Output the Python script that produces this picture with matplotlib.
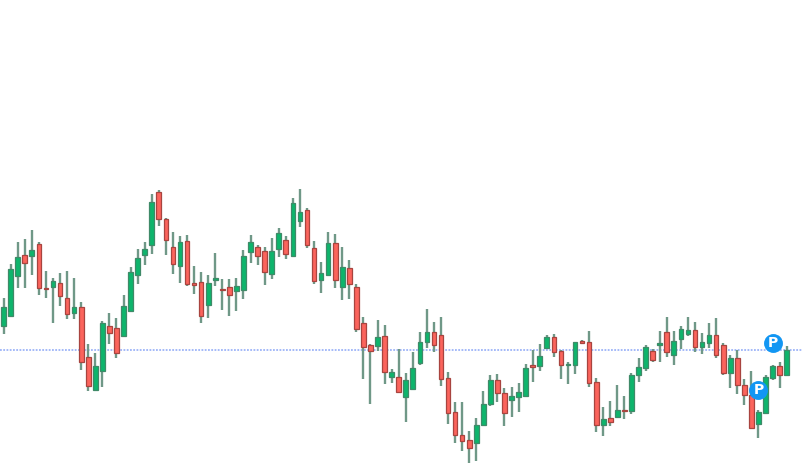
import matplotlib
matplotlib.use("Agg")
import matplotlib.pyplot as plt
import numpy as np

# values, y axis runs the same way as the picture
highs = [298.3,264,242,239.3,230,242,270.7,278,273.3,270.7,278.3,302,344.3,353.3,320.7,313.3,318.3,295,267.3,249.3,
         242,194,190,218.3,231.7,235.7,235,266,271.7,275,252.7,279,279,278.3,250,235,245.3,246.7,237.7,227.7,
         235.7,198.3,189,208.3,240.7,261.7,231.7,234,246.7,260,284,316.7,344.3,320.3,325,369.3,349,373.3,351.7,331.7,
         309,321.7,316.7,371.7,402,402,430.7,418.3,390.7,375,374,388.3,387.3,383.3,364,350,344,335,334,350,
         362.3,341.7,340,330.7,378.3,407.3,400.7,385.3,395.7,373.3,357.7,345,349.3,330.7,316.7,330.7,325.7,316.7,321.7,332.7,
         322.7,318.3,342.7,355,350,379.3,370.7,410,375,365,362,345.7]
tops = [307.3,269.3,257.3,254.7,249.7,244.3,288,281,283.3,298.3,307.3,307.3,357.3,366,323.3,326,328.3,306,272.3,258.3,
        249.3,202,191.7,219.3,247,242.3,240.7,283.3,281.7,283.3,278,289,287.3,286,256,242,247.3,250.7,251,233,
        239.7,202.7,212,210.3,248.3,273.3,243.3,243.3,267.3,268.3,287.3,323.3,345,337.3,336,372,377.3,380,368.3,342.3,
        332.3,332.3,334.7,378.3,412.3,435,440,425,403.7,380,379.7,392.7,396,392.3,368.3,365.3,356,337.3,337.3,351,
        364,342.3,340.7,342.3,382.3,418.7,418.3,409.7,409.7,374.7,367.3,347.3,351,343.3,332.3,341,328.7,330,330,342,
        334.7,334.7,344.7,358.3,358.3,384.7,395,412.3,377.3,366,366,349.7]
bottoms = [326,316,276,263.3,256,288.3,289,287.3,296,313.7,312.7,362.3,386.3,390,371,333.3,353.3,336.3,311,275,
           255,244.7,219.3,240,263.7,266,284,285.3,316,305,280,290.3,295.3,291,290,252.3,256.3,272.3,274,248.7,
           253.7,256,220.7,245,281,280.3,275,280,287.3,283.7,328.7,347.3,351.3,346,372.3,377.3,391.7,396.7,389,362.7,
           342.3,345,378.7,412.7,435,441.3,447.7,442.7,425.3,403.7,392.7,412.7,400.3,397.3,395.7,366.7,366,348.3,351.7,365.3,
           365.3,365,342.7,382.7,425,425,421.7,417.3,411.3,411.3,375.3,367.7,360,345,351.7,355,338.7,334,346.7,346.7,
           342.7,355,372.7,372.7,385,395.3,427.7,424,412.7,377.7,375.3,375]
lows = [334,316,288.3,288,275,295,297.7,322.7,306,318.7,319,370,391.3,390,387.3,344,357.7,337,311.3,284,
        265,254,226,255,274,282.7,286,294,322.7,317.7,286,310,316,311.3,299.3,262.7,265.3,285,279.3,257.3,
        259,256,227.3,248.3,284,292.7,275,287.7,300,299.3,331.7,379,404,351,384.3,382.7,393,421.7,390,365,
        347.7,351.7,385.7,424.3,443.3,450.7,463.3,460.7,426,406,401.7,425.7,416.7,411.7,396,381.7,370.7,349.3,356.7,379.3,
        384.3,374,344,386.7,431.7,435.7,425.7,417.3,419.3,414.3,381.7,370.7,361.7,361.7,356.7,365.3,349.3,335.7,351.7,354.3,
        348.3,358.3,375,387.7,394,405.3,428,437.7,412.7,380,387.7,376]
up = [1,1,1,0,1,0,0,1,0,0,1,0,0,1,1,0,0,1,1,1,
      1,1,0,0,0,1,0,0,0,1,1,0,0,1,1,1,0,0,1,1,
      0,1,1,0,0,1,1,0,1,0,0,0,0,1,0,1,0,1,1,1,
      1,0,0,0,0,0,0,1,1,1,0,0,1,1,1,0,1,1,0,0,
      1,1,0,0,0,1,0,1,0,1,1,1,0,1,0,1,1,1,0,1,
      1,0,0,1,0,0,0,1,1,1,0,1]
pivot_idx = [109, 107]
pivot_y = [343, 390]
price_level = 350

up = np.array(up, dtype=bool)
x = np.arange(len(highs))
tops_a = np.array(tops)
bottoms_a = np.array(bottoms)

fig = plt.figure(figsize=(8.02, 4.70), dpi=100)
ax = fig.add_axes([0, 0, 1, 1])

ax.axhline(price_level, color="#9db4f8", lw=1.3, ls=(0, (1, 0.8)), zorder=1)
ax.vlines(x, highs, lows, color="#6f9887", lw=1.7, zorder=2)

face = np.where(up, "#0db56c", "#fb645c")
edge = np.where(up, "#3f8a68", "#a8443f")
ax.bar(x, bottoms_a - tops_a, bottom=tops_a, width=0.66, color=face, edgecolor=edge, lw=0.9, zorder=3)

ax.scatter(pivot_idx, pivot_y, s=185, color="#1296f3", lw=0, zorder=4)
for i, y in zip(pivot_idx, pivot_y):
    ax.text(i, y - 0.3, "P", color="white", fontsize=10, fontweight="bold",
            ha="center", va="center", zorder=5)

ax.set_xlim(-0.51, 113.17)
ax.set_ylim(470, 0)
ax.axis("off")

fig.savefig("out.png", dpi=100, facecolor="white")
